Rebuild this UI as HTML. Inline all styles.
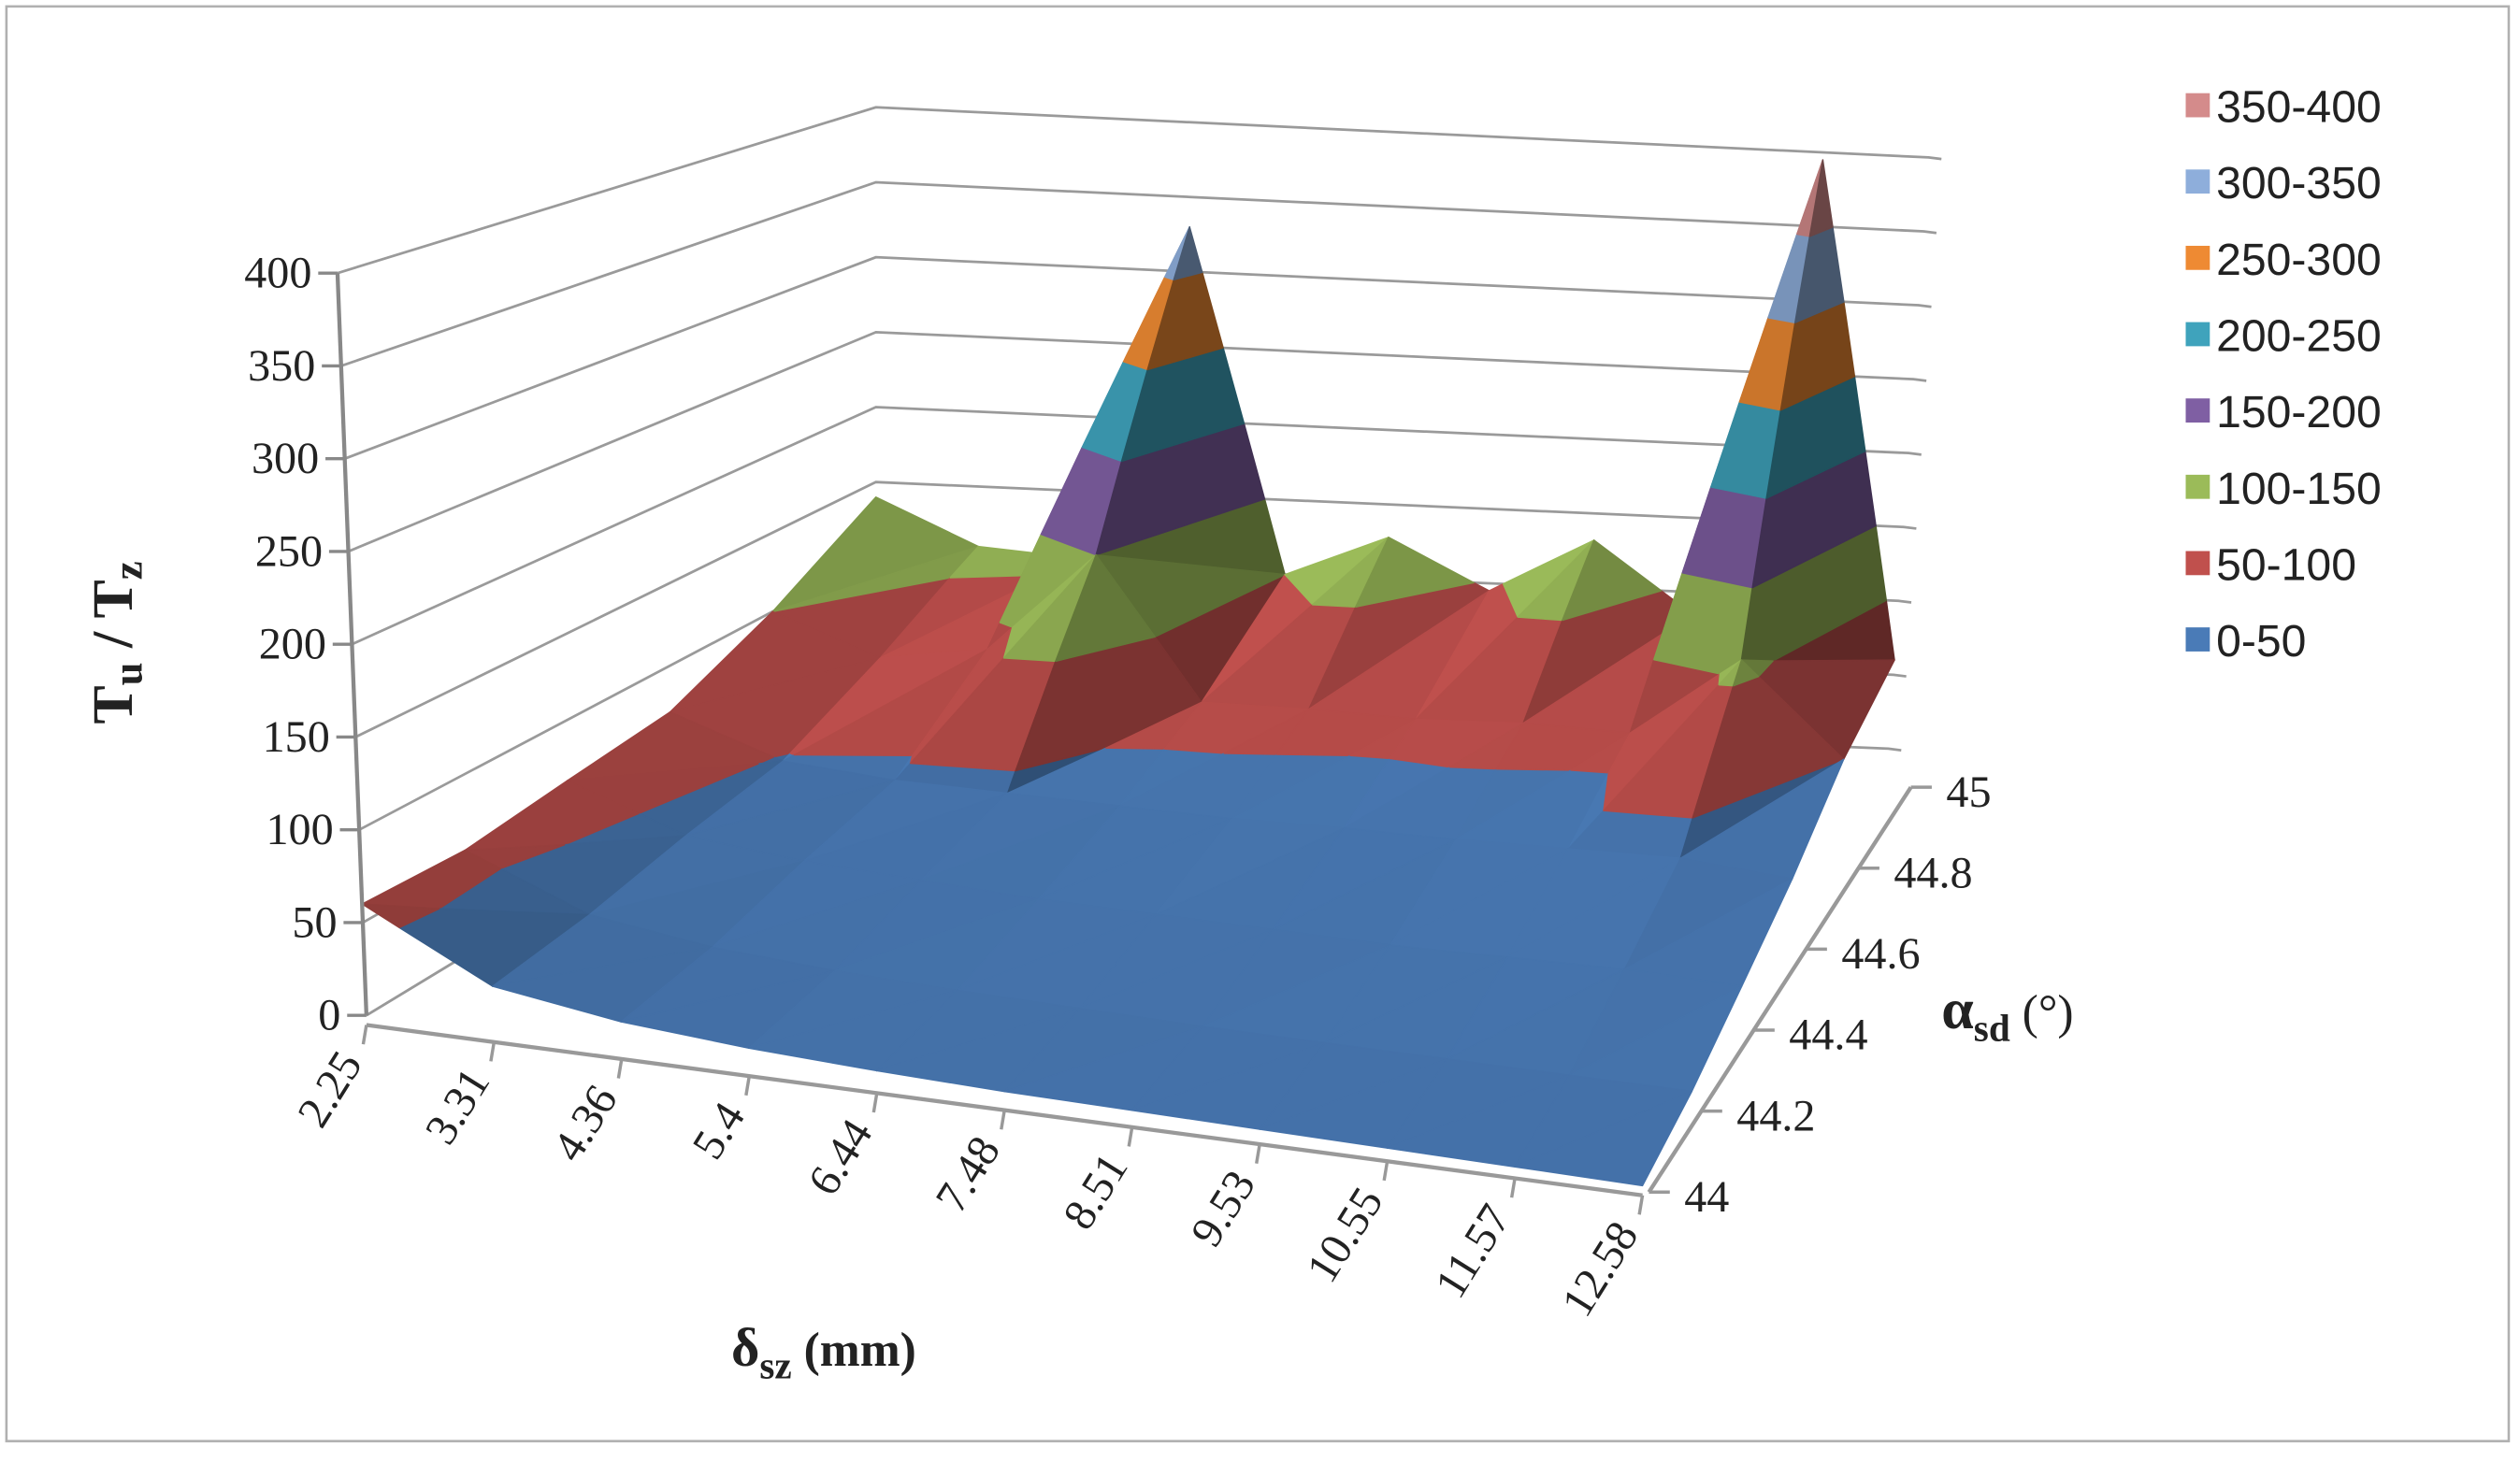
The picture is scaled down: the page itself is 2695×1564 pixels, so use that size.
<!DOCTYPE html>
<html><head><meta charset="utf-8"><style>
html,body{margin:0;padding:0;background:#fff;}
svg{display:block;}
text{font-family:"Liberation Serif",serif;fill:#222;}
</style></head><body>
<svg id="chart" width="2695" height="1564" viewBox="0 0 1568 910" preserveAspectRatio="none" xmlns="http://www.w3.org/2000/svg">
<rect x="4" y="4" width="1557" height="893" fill="#fff" stroke="#b0b0b0" stroke-width="1.5"/>
<g id="grid"></g>
<g id="surface"></g>
<g id="axes"></g>
<text transform="translate(82,400) rotate(-90)" text-anchor="middle" font-size="36" font-weight="bold">T<tspan font-size="26" dy="6">u</tspan><tspan dy="-6"> / T</tspan><tspan font-size="26" dy="6">z</tspan></text>
<text x="455" y="850" font-size="34" font-weight="bold">δ<tspan font-size="24" dy="8">sz</tspan><tspan dy="-8" font-size="30"> (mm)</tspan></text>
<text x="1208" y="640" font-size="36" font-weight="bold">α<tspan font-size="24" dy="8">sd</tspan><tspan dy="-8" font-size="30" font-weight="normal"> (°)</tspan></text>
<g id="legend"></g>
</svg>
<script>
const deltaLabels=["2.25","3.31","4.36","5.4","6.44","7.48","8.51","9.53","10.55","11.57","12.58"];
const alphaLabels=["44","44.2","44.4","44.6","44.8","45"];
const zTicks=[0,50,100,150,200,250,300,350,400];
const bandLabels=["0-50","50-100","100-150","150-200","200-250","250-300","300-350","350-400"];
const bandColors=["#4a7bb7","#c0504d","#9bbb59","#7f5fa3","#3fa3bc","#ee8a33","#8eaedb","#d48b8b"];
const zAlpha44=[60,25,15,10,7,5,4,3,2,1,0];
const zAlpha442=[58,30,20,15,12,10,8,7,6,5,4];
const zAlpha444=[65,40,32,28,24,22,20,18,18,18,15];
const zAlpha446=[72,48,42,40,38,36,36,35,35,35,28];
const zAlpha448=[100,75,85,150,60,60,58,60,58,110,50];
const zAlpha45=[140,110,105,330,100,128,95,132,85,395,60];
const grid=[zAlpha44,zAlpha442,zAlpha444,zAlpha446,zAlpha448,zAlpha45];
const NS="http://www.w3.org/2000/svg";
const NI=deltaLabels.length-1, NJ=alphaLabels.length-1;
const C={FL:[228,632],FR:[1022,738],BL:[545,440],BR:[1175,466]};
const S={FL:1.155,FR:1.10,BL:0.933,BR:0.92};
const L={FL:-0.045,FR:0.03,BL:0,BR:0.0625};
function bil(o,u,v){return o.FL*(1-u)*(1-v)+o.FR*u*(1-v)+o.BL*(1-u)*v+o.BR*u*v;}
function P(i,j,z){const u=i/NI,v=j/NJ;
  const fx=C.FL[0]*(1-u)*(1-v)+C.FR[0]*u*(1-v)+C.BL[0]*(1-u)*v+C.BR[0]*u*v;
  const fy=C.FL[1]*(1-u)*(1-v)+C.FR[1]*u*(1-v)+C.BL[1]*(1-u)*v+C.BR[1]*u*v;
  return [fx+z*bil(L,u,v), fy-z*bil(S,u,v)];}
function el(tag,attrs,parent){const e=document.createElementNS(NS,tag);for(const k in attrs)e.setAttribute(k,attrs[k]);parent.appendChild(e);return e;}
const gG=document.getElementById('grid'),gS=document.getElementById('surface'),gA=document.getElementById('axes'),gL=document.getElementById('legend');
zTicks.forEach(z=>{const a=P(0,0,z),b=P(0,NJ,z),c=P(NI,NJ,z);
  const pl=el('polyline',{points:`${a} ${b} ${c} ${c[0]+8},${c[1]+1}`,fill:'none',stroke:'#9a9a9a','stroke-width':1.6},gG);
  
  
  const t=el('line',{x1:a[0]-12,y1:a[1],x2:a[0],y2:a[1],stroke:'#888','stroke-width':2},gA);
  
  
  const tx=el('text',{x:a[0]-16,y:a[1]+9,'text-anchor':'end','font-size':28},gA);tx.textContent=z;
  
  
});
{const a=P(0,0,0),b=P(0,0,400);const l=el('line',{x1:a[0],y1:a[1],x2:b[0],y2:b[1],stroke:'#888','stroke-width':2.5},gA);
 }
function clip(poly,lo,hi){
  function cut(p,f,lim){const out=[];for(let k=0;k<p.length;k++){const A=p[k],B=p[(k+1)%p.length];
    const ia=f(A[2]),ib=f(B[2]);if(ia)out.push(A);
    if(ia!==ib){const t=(lim-A[2])/(B[2]-A[2]);out.push([A[0]+t*(B[0]-A[0]),A[1]+t*(B[1]-A[1]),lim]);}}return out;}
  let p=cut(poly,z=>z>=lo,lo);if(p.length<3)return p;return cut(p,z=>z<=hi,hi);}
function shade(hex,f){const n=parseInt(hex.slice(1),16);let r=n>>16,g=(n>>8)&255,b=n&255;
  const m=c=>Math.max(0,Math.min(255,Math.round(c*f)));return `rgb(${m(r)},${m(g)},${m(b)})`;}
const tris=[];
for(let j=0;j<NJ;j++)for(let i=0;i<NI;i++){
  const A=[i,j,grid[j][i]],B=[i+1,j,grid[j][i+1]],Cc=[i+1,j+1,grid[j+1][i+1]],D=[i,j+1,grid[j+1][i]];
  const key=(j+0.5)-0.35*(i+0.5);
  tris.push({v:[A,B,Cc],key:key-0.01});tris.push({v:[A,Cc,D],key:key+0.01});}
tris.sort((a,b)=>b.key-a.key);
tris.forEach((t)=>{
  const [a,b,c]=t.v;const s=0.02;
  const u=[(b[0]-a[0]),(b[1]-a[1])*1.6,(b[2]-a[2])*s],w=[(c[0]-a[0]),(c[1]-a[1])*1.6,(c[2]-a[2])*s];
  let n=[u[1]*w[2]-u[2]*w[1],u[2]*w[0]-u[0]*w[2],u[0]*w[1]-u[1]*w[0]];const ln=Math.hypot(...n)||1;n=n.map(x=>x/ln);if(n[2]<0)n=n.map(x=>-x);
  const Lg=[-0.45,-0.35,0.82];const d=n[0]*Lg[0]+n[1]*Lg[1]+n[2]*Lg[2];const f=0.55+0.45*d;
  for(let k=0;k<bandColors.length;k++){const p=clip(t.v,k*50,(k+1)*50);if(p.length<3)continue;
    const pts=p.map(q=>P(q[0],q[1],q[2]).map(x=>x.toFixed(1)).join(',')).join(' ');
    const col=shade(bandColors[k],f);
    const pg=el('polygon',{points:pts,fill:col,stroke:col,'stroke-width':0.8,'stroke-linejoin':'round'},gS);
    
    }
});
{const a=P(0,0,0),b=P(NI,0,0);const l=el('line',{x1:a[0],y1:a[1]+6,x2:b[0],y2:b[1]+6,stroke:'#999','stroke-width':2.5},gA);
 
 const l2=el('line',{x1:a[0],y1:a[1],x2:C.BL[0]-100,y2:C.BL[1]+60,stroke:'#999','stroke-width':1.5},gG);
 }
deltaLabels.forEach((lab,i)=>{const p=P(i,0,0);
  const t=el('line',{x1:p[0],y1:p[1]+6,x2:p[0]-2,y2:p[1]+18,stroke:'#999','stroke-width':2},gA);
  
  const tx=el('text',{transform:`translate(${p[0]-2},${p[1]+30}) rotate(-58)`,'text-anchor':'end','font-size':28},gA);tx.textContent=lab;
  });
{const a=P(NI,0,0),b=P(NI,NJ,0);const l=el('line',{x1:a[0]+4,y1:a[1]+4,x2:b[0]+14,y2:b[1]+24,stroke:'#999','stroke-width':2.5},gA);
 }
alphaLabels.forEach((lab,j)=>{const p=P(NI,j,0);const x=p[0]+4+j*2,y=p[1]+4+j*4;
  const t=el('line',{x1:x,y1:y,x2:x+13,y2:y,stroke:'#999','stroke-width':2},gA);
  
  const tx=el('text',{x:x+22,y:y+12,'font-size':28},gA);tx.textContent=lab;
  });
for(let k=bandLabels.length-1;k>=0;k--){const r=bandLabels.length-1-k;const y=66+r*47.5;
  const sq=el('rect',{x:1360,y:y-8,width:15,height:15,fill:bandColors[k]},gL);
  
  const tx=el('text',{x:1379,y:y+10,'font-size':28,style:'font-family:"Liberation Sans",sans-serif'},gL);tx.textContent=bandLabels[k];
  }
</script>
</body></html>
